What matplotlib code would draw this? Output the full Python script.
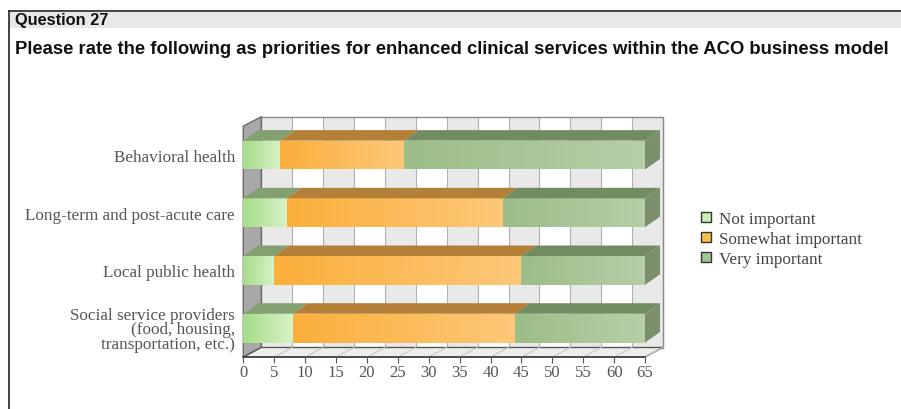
import numpy as np
import matplotlib.pyplot as plt
from matplotlib.patches import Polygon, Rectangle
from matplotlib.lines import Line2D
from matplotlib.colors import LinearSegmentedColormap

# data (top to bottom in the chart)
categories = ['Behavioral health',
              'Long-term and post-acute care',
              'Local public health',
              'Social service providers\n(food, housing,\ntransportation, etc.)']
not_important = [6, 7, 5, 8]
somewhat_important = [20, 35, 40, 36]
very_important = [39, 23, 20, 21]
series_names = ['Not important', 'Somewhat important', 'Very important']
xticks = list(range(0, 70, 5))

# colours: (gradient left, gradient right, top face, legend)
styles = [
    ('#a6dc88', '#d6f2c6', '#82a070', '#c8eeb4'),
    ('#fbaf3c', '#fdc878', '#b47f36', '#f9bf4a'),
    ('#9cbd88', '#b6cfa8', '#728c62', '#a4c294'),
]
side_color = '#7b8f6c'

fig = plt.figure(figsize=(9.01, 4.10), dpi=100)

# page frame + header
fig.add_artist(Rectangle((10 / 901, 1 - 29 / 410), 1, 16 / 410, transform=fig.transFigure,
                         facecolor='#e8e8e8', edgecolor='none'))
fig.add_artist(Line2D([9 / 901, 1], [1 - 12 / 410] * 2, color='#222222', lw=1.2))
fig.add_artist(Line2D([9 / 901] * 2, [0, 1 - 12 / 410], color='#222222', lw=1.2))
fig.text(15 / 901, 1 - 21 / 410, 'Question 27', family='Liberation Sans', weight='bold',
         fontsize=11.8, va='center', color='#111111')
fig.text(15 / 901, 1 - 50 / 410,
         'Please rate the following as priorities for enhanced clinical services within the ACO business model',
         family='Liberation Sans', weight='bold', fontsize=13.3, va='center', color='#111111')

ax = fig.add_axes([243.3 / 901, 52 / 410, 401.7 / 901, 230.8 / 410])
ax.set_xlim(0, 65)
ax.set_ylim(-0.5, 3.5)
for s in ax.spines.values():
    s.set_visible(False)

pxx = 401.7 / 65      # pixels per x unit
pxy = 230.8 / 4       # pixels per y unit
wdx, wdy = 18 / pxx, 9.5 / pxy     # wall depth
bdx, bdy = 15 / pxx, 10.5 / pxy    # bar depth
bh = 0.5
y0, y1 = -0.5, 3.5

# back wall with alternating columns
for i, x in enumerate(xticks[:-1]):
    ax.add_patch(Rectangle((x + wdx, y0 + wdy), 5, y1 - y0, facecolor='#e9e9e9' if i % 2 == 0 else 'white',
                           edgecolor='none', zorder=1, clip_on=False))
for x in xticks:
    ax.plot([x + wdx, x + wdx], [y0 + wdy, y1 + wdy], color='#b0b0b0', lw=0.8, zorder=1.5, clip_on=False)
ax.add_patch(Rectangle((wdx, y0 + wdy), 65, y1 - y0, facecolor='none', edgecolor='#8a8a8a', lw=1,
                       zorder=1.6, clip_on=False))
# left wall
ax.add_patch(Polygon([(0, y0), (wdx, y0 + wdy), (wdx, y1 + wdy), (0, y1)], facecolor='#a8a8a8',
                     edgecolor='#6a6a6a', lw=1, zorder=2, clip_on=False))
# floor
ax.add_patch(Polygon([(0, y0), (65, y0), (65 + wdx, y0 + wdy), (wdx, y0 + wdy)], facecolor='#eeeeea',
                     edgecolor='#555555', lw=1, zorder=2, clip_on=False))
for x in xticks[1:]:
    ax.plot([x, x + wdx], [y0, y0 + wdy], color='#c8c8c8', lw=0.8, zorder=2.1, clip_on=False)
ax.plot([0, 65], [y0, y0], color='#444444', lw=1.2, zorder=2.2, clip_on=False)

grad = np.linspace(0, 1, 64).reshape(1, -1)
ypos = [3, 2, 1, 0]
for yc, vals in zip(ypos, zip(not_important, somewhat_important, very_important)):
    left = 0
    for k, v in enumerate(vals):
        c0, c1, ctop, _ = styles[k]
        cmap = LinearSegmentedColormap.from_list('g%d' % k, [c0, c1])
        front = Rectangle((left, yc - bh / 2), v, bh, facecolor='none', edgecolor='none', zorder=3)
        ax.add_patch(front)
        im = ax.imshow(grad, cmap=cmap, aspect='auto', extent=(left, left + v, yc - bh / 2, yc + bh / 2),
                       zorder=3, interpolation='bilinear')
        im.set_clip_path(front)
        ax.add_patch(Polygon([(left, yc + bh / 2), (left + v, yc + bh / 2), (left + v + bdx, yc + bh / 2 + bdy),
                              (left + bdx, yc + bh / 2 + bdy)], facecolor=ctop, edgecolor='none',
                             zorder=3.1, clip_on=False))
        left += v
    ax.add_patch(Polygon([(left, yc - bh / 2), (left + bdx, yc - bh / 2 + bdy), (left + bdx, yc + bh / 2 + bdy),
                          (left, yc + bh / 2)], facecolor=side_color, edgecolor='none', zorder=3.2, clip_on=False))

ax.set_xlim(0, 65)
ax.set_ylim(-0.5, 3.5)
ax.set_xticks(xticks)
ax.set_xticklabels([str(t) for t in xticks], family='Liberation Serif', fontsize=12, color='#555555')
ax.tick_params(axis='x', length=4, color='#555555', pad=1)
ax.set_yticks(ypos)
ax.set_yticklabels(categories, family='Liberation Serif', fontsize=12.3, color='#555555', linespacing=0.86)
ax.tick_params(axis='y', length=0, pad=6)

handles = [Line2D([], [], marker='s', ls='none', markersize=6.5, markerfacecolor=st[3],
                  markeredgecolor='#333333', markeredgewidth=1) for st in styles]
fig.legend(handles, series_names, loc='center left', bbox_to_anchor=(692 / 901, 1 - 240 / 410),
           frameon=False, prop={'family': 'Liberation Serif', 'size': 12.3}, labelcolor='#444444',
           handlelength=0.6, handletextpad=0.5, labelspacing=0.25, borderpad=0)

fig.savefig('out.png', dpi=100)
